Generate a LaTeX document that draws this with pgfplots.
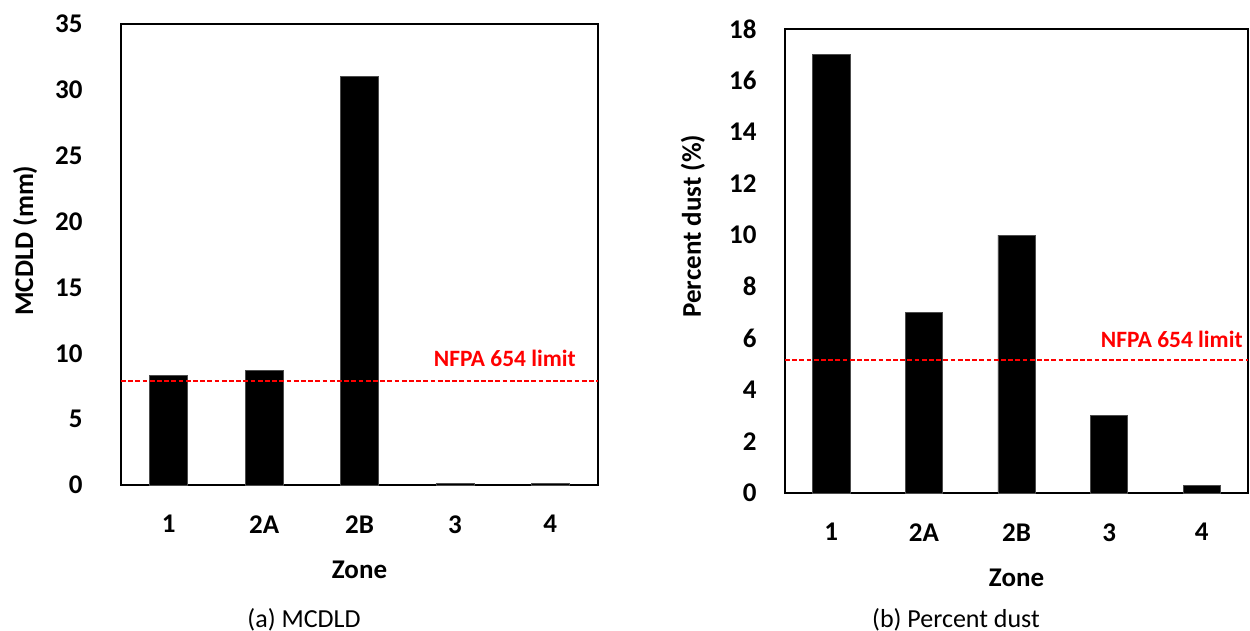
\documentclass[border=0pt]{standalone}
\usepackage{pgfplots}
\pgfplotsset{compat=1.18}
\usepackage{fontspec}
\setmainfont{Carlito}
\definecolor{limred}{RGB}{255,0,0}
\begin{document}
\begin{tikzpicture}
\useasboundingbox (0,0) rectangle (625pt,315.5pt);
\pgfplotsset{
  myax/.style={
    scale only axis,
    anchor=south west,
    axis line style={black, line width=1pt},
    major tick length=0pt,
    ymin=0,
    xmin=0.5, xmax=5.5,
    xtick={1,2,3,4,5},
    xticklabels={1,2A,2B,3,4},
    /pgf/number format/assume math mode=true,
    tick label style={font=\fontsize{13.5}{15}\selectfont\bfseries, inner sep=0pt},
    xticklabel style={anchor=north, yshift=-15pt},
    label style={font=\fontsize{13.5}{15}\selectfont\bfseries, inner sep=0pt},
    xlabel={Zone},
    xlabel style={at={(axis description cs:0.5,0)}, anchor=north, yshift=-38pt},
    clip=false,
  },
  limitline/.style={draw=limred, color=limred, line width=0.8pt, dash pattern=on 2.4pt off 1.2pt, no markers, forget plot},
  mybars/.style={ybar, bar width=0.4, draw=black!70, fill=black, line width=0.3pt},
}
% Left panel
\begin{axis}[myax,
  at={(60.5pt,73pt)},
  width=238.5pt, height=230.5pt,
  ymax=35, ytick={0,5,...,35},
  yticklabel style={anchor=east, xshift=-19pt},
  ylabel={MCDLD (mm)},
  ylabel style={at={(axis description cs:-0.201,0.53)}, anchor=center, rotate=0},
]
\addplot[mybars] coordinates {(1,8.35) (2,8.73) (3,31) (4,0.1) (5,0.1)};
\addplot[limitline] coordinates {(0.5,7.9) (5.5,7.9)};
\node[anchor=base east, text=limred, font=\fontsize{11.7}{13}\selectfont\bfseries, inner sep=0pt] at (axis cs:5.27,8.96) {NFPA 654 limit};
\end{axis}
% Right panel
\begin{axis}[myax,
  at={(392.5pt,69pt)},
  width=231.5pt, height=232pt,
  ymax=18, ytick={0,2,...,18},
  yticklabel style={anchor=east, xshift=-14pt},
  ylabel={Percent dust (\%)},
  ylabel style={at={(axis description cs:-0.199,0.575)}, anchor=center, rotate=0},
]
\addplot[mybars] coordinates {(1,17) (2,7) (3,10) (4,3) (5,0.3)};
\addplot[limitline] coordinates {(0.5,5.16) (5.5,5.16)};
\node[anchor=base east, text=limred, font=\fontsize{11.7}{13}\selectfont\bfseries, inner sep=0pt] at (axis cs:5.446,5.66) {NFPA 654 limit};
\end{axis}
\node[anchor=base, font=\fontsize{13}{15}\selectfont, inner sep=0pt] at (152pt,1.8pt) {(a) MCDLD};
\node[anchor=base, font=\fontsize{13}{15}\selectfont, inner sep=0pt] at (478pt,1.8pt) {(b) Percent dust};
\end{tikzpicture}
\end{document}
